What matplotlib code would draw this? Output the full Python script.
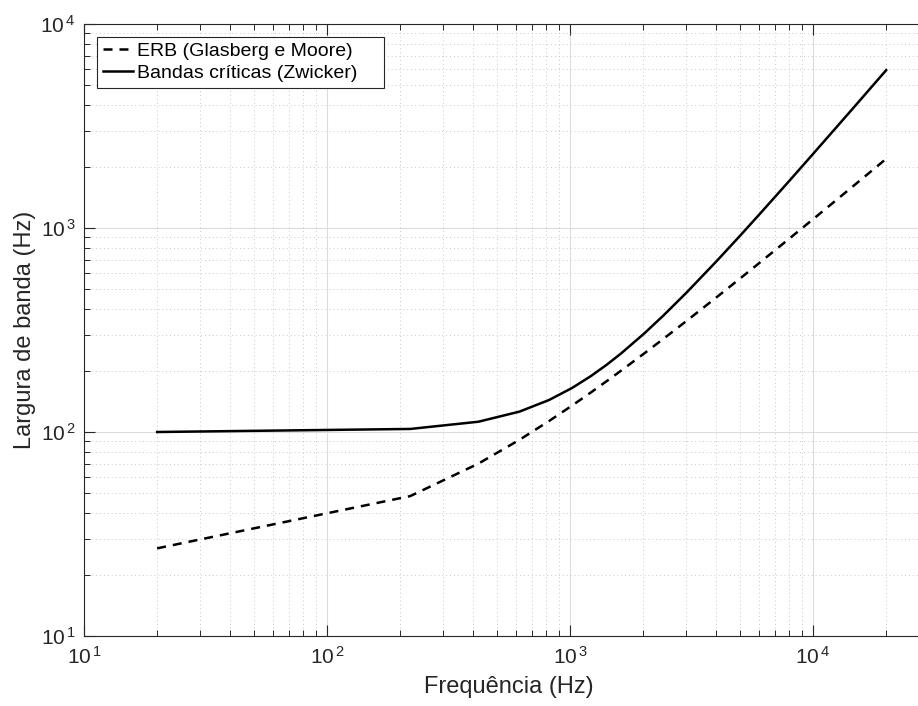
import matplotlib
matplotlib.use("Agg")
import matplotlib.pyplot as plt
from matplotlib.ticker import FuncFormatter
import numpy as np

plt.rcParams['font.family'] = ['Liberation Sans', 'DejaVu Sans']
plt.rcParams['mathtext.fontset'] = 'custom'
plt.rcParams['mathtext.rm'] = 'Liberation Sans'
plt.rcParams['mathtext.it'] = 'Liberation Sans'

freq = [20, 220, 420, 620, 820, 1020, 1220, 1420, 1620, 2020, 2420,
        3020, 4020, 5020, 6020, 8020, 10020, 12020, 15020, 20000]

# ERB (Glasberg e Moore), Hz
erb = [26.9, 48.5, 70.0, 91.6, 113.2, 134.8, 156.4, 178.0, 199.6, 242.7,
       285.9, 350.7, 458.6, 566.5, 674.5, 890.4, 1106, 1322, 1646, 2183]

# critical bands (Zwicker), Hz
critical = [100.0, 103.5, 112.3, 125.9, 143.5, 164.4, 188.1, 214.2, 242.3,
            304.0, 371.8, 483.0, 689.8, 918.8, 1167, 1711, 2312, 2961,
            4010, 5938]


def power_label(value, pos):
    # MATLAB style "10 ^n" with a small gap before the exponent
    exponent = int(round(np.log10(value)))
    return r'$\mathregular{10^{\,%d}}$' % exponent


def main():
    fig = plt.figure(figsize=(9.18, 7.06), dpi=100)
    # right edge of the axes runs past the figure, as in the reference
    ax = fig.add_axes([84 / 918, 70 / 706, 850.5 / 918, 612 / 706])

    ax.loglog(freq, erb, color='k', linewidth=1.8,
              linestyle=(0, (3.6, 2.8)), label='ERB (Glasberg e Moore)')
    ax.loglog(freq, critical, 'k-', linewidth=1.8,
              label='Bandas críticas (Zwicker)')

    ax.set_xlim(10, 10 ** 4.5)
    ax.set_ylim(10, 1e4)
    ax.set_xticks([10, 100, 1000, 10000])
    ax.set_yticks([10, 100, 1000, 10000])
    ax.xaxis.set_major_formatter(FuncFormatter(power_label))
    ax.yaxis.set_major_formatter(FuncFormatter(power_label))

    ax.grid(True, which='major', color='#dcdcdc', linewidth=0.8, linestyle='-')
    ax.grid(True, which='minor', color='#c8c8c8', linewidth=0.7,
            linestyle=(0, (1, 3)))
    ax.set_axisbelow(True)

    ax.tick_params(which='both', direction='in', top=True, right=True,
                   labelsize=15, colors='#262626')
    ax.tick_params(axis='x', which='major', pad=7)
    ax.tick_params(axis='y', which='major', pad=6)
    ax.tick_params(which='major', length=8, width=0.8)
    ax.tick_params(which='minor', length=4, width=0.7)
    for spine in ax.spines.values():
        spine.set_color('#262626')
        spine.set_linewidth(0.8)

    ax.set_xlabel('Frequência (Hz)', fontsize=17, color='#262626', labelpad=6)
    ax.set_ylabel('Largura de banda (Hz)', fontsize=17, color='#262626',
                  labelpad=3)

    # legend box stretched to the width it has in the reference
    leg = ax.legend(loc='upper left', bbox_to_anchor=(0.0153, 0, 0.3375, 0.979),
                    mode='expand', fontsize=14, fancybox=False,
                    framealpha=1, edgecolor='#262626', handlelength=1.55,
                    borderaxespad=0, borderpad=0.3, handletextpad=0.2,
                    labelspacing=0.2)
    leg.get_frame().set_linewidth(0.8)

    fig.savefig('out.png', dpi=100)


if __name__ == "__main__":
    main()
